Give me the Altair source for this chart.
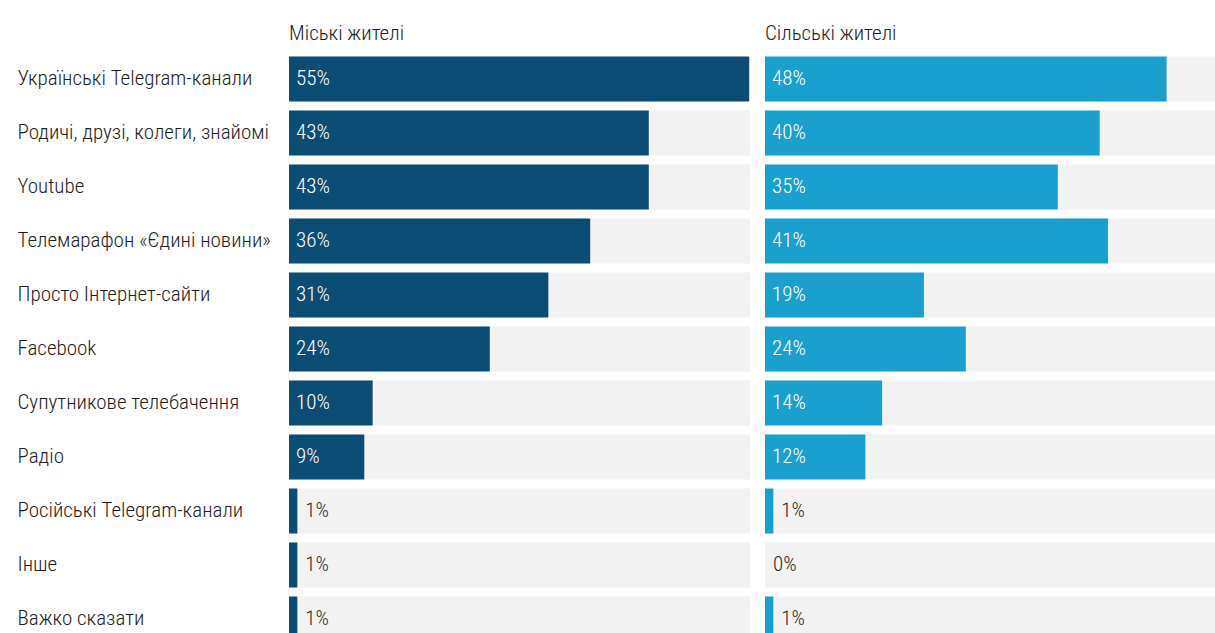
import altair as alt
import pandas as pd

categories = [
    "Українські Telegram-канали",
    "Родичі, друзі, колеги, знайомі",
    "Youtube",
    "Телемарафон «Єдині новини»",
    "Просто Інтернет-сайти",
    "Facebook",
    "Супутникове телебачення",
    "Радіо",
    "Російські Telegram-канали",
    "Інше",
    "Важко сказати",
]
urban = [55, 43, 43, 36, 31, 24, 10, 9, 1, 1, 1]
rural = [48, 40, 35, 41, 19, 24, 14, 12, 1, 0, 1]
panel_titles = ["Міські жителі", "Сільські жителі"]
colors = ["#0c4d76", "#1aa0cf"]

FONT = "Liberation Sans Narrow, Arial Narrow, Roboto Condensed, Roboto"
FS = 21
PX_PER_PCT = 461 / 55.1
ROW_H = 54
HEIGHT = ROW_H * len(categories)


def panel(values, title, color, width, show_labels):
    df = pd.DataFrame({
        "category": categories,
        "value": values,
        "label": [f"{v}%" for v in values],
    })
    axis = alt.Axis(domain=False, ticks=False, grid=False, labelAlign="left",
                    labelPadding=272, labelFontSize=FS, labelFont=FONT,
                    labelFontWeight=300,
                    labelColor="#1e1e1e", labelLimit=320) if show_labels else None
    y = alt.Y("category:N", sort=categories, title=None, axis=axis,
              scale=alt.Scale(paddingInner=9 / 54, paddingOuter=4.5 / 54))
    xs = alt.Scale(domain=[0, width / PX_PER_PCT], nice=False, zero=True)
    base = alt.Chart(df)
    track = base.mark_rect(color="#f2f2f2").encode(
        x=alt.value(0), x2=alt.value(width), y=y)
    bars = base.mark_bar(color=color).encode(
        x=alt.X("value:Q", scale=xs, axis=None), y=y)
    inside = base.transform_filter("datum.value >= 5").mark_text(
        align="left", baseline="middle", color="white", fontSize=FS, font=FONT,
        fontWeight=300, dx=7
    ).encode(x=alt.value(0), y=y, text="label:N")
    outside = base.transform_filter("datum.value < 5").mark_text(
        align="left", baseline="middle", color="#2a2a2a", fontSize=FS, font=FONT,
        fontWeight=300, dx=8
    ).encode(x=alt.X("value:Q", scale=xs, axis=None), y=y, text="label:N")
    return alt.layer(track, bars, inside, outside).properties(
        width=width, height=HEIGHT,
        title=alt.TitleParams(title, anchor="start", frame="group", fontSize=FS,
                              fontWeight=300, font=FONT, color="#1e1e1e", offset=8),
    )


left = panel(urban, panel_titles[0], colors[0], 461, True)
right = panel(rural, panel_titles[1], colors[1], 450, False)

chart = alt.hconcat(left, right, spacing=15).properties(
    padding={"left": 17, "top": 23, "right": 0, "bottom": 0}
).configure_view(stroke=None)

chart.save("out.html", embed_options={"renderer": "svg", "actions": False})
